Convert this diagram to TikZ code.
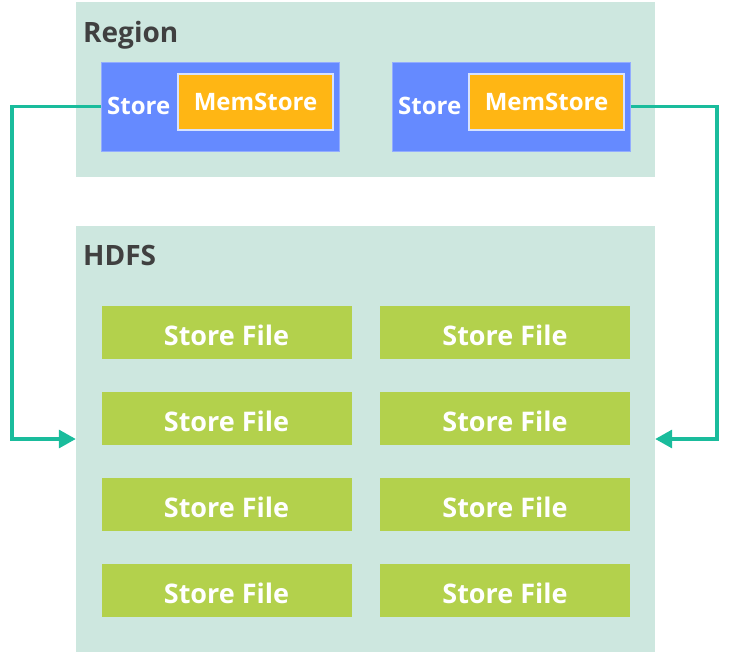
\documentclass[tikz,border=0pt]{standalone}
\usepackage{fontspec}
\setmainfont{Open Sans}
\usetikzlibrary{arrows.meta}
\definecolor{mint}{HTML}{CDE7DF}
\definecolor{storeblue}{HTML}{658AFF}
\definecolor{memorange}{HTML}{FFB614}
\definecolor{filegreen}{HTML}{B3D14C}
\definecolor{teal}{HTML}{1ABC9C}
\definecolor{labelgray}{HTML}{404040}
\definecolor{memedge}{HTML}{D6E2FF}
\tikzset{
  panel/.style={fill=mint, draw=none, inner sep=0pt},
  storebox/.style={fill=storeblue, draw=storeblue!70!white, line width=0.6pt, inner sep=0pt, minimum width=237.5pt, minimum height=89pt},
  membox/.style={fill=memorange, draw=memedge, line width=1.2pt, inner sep=0pt, minimum width=155pt, minimum height=56pt, text=white, font=\fontsize{24}{26}\selectfont\bfseries},
  filebox/.style={fill=filegreen, inner sep=0pt, minimum width=250pt, minimum height=53pt, text=white, text height=25pt, text depth=0pt, font=\fontsize{27}{29}\selectfont\bfseries},
  title/.style={text=labelgray, font=\fontsize{28}{30}\selectfont\bfseries, inner sep=0pt, anchor=base west},
  storelabel/.style={text=white, font=\fontsize{24}{26}\selectfont\bfseries, inner sep=0pt, anchor=base west},
  conn/.style={draw=teal, line width=3.3pt, -{Triangle[length=17pt,width=18pt]}}
}
\begin{document}
\begin{tikzpicture}[x=1pt,y=-1pt]
\useasboundingbox (0,0) rectangle (731,654);
% panels
\node[panel, minimum width=579pt, minimum height=175pt] (region) at (365.5,89.5) {};
\node[panel, minimum width=579pt, minimum height=426pt] (hdfs) at (365.5,439) {};
\node[title] (regiontitle) at (83,42) {Region};
\node[title] (hdfstitle) at (83,265) {HDFS};
% stores
\node[storebox] (storeL) at (220.25,106.5) {};
\node[storebox] (storeR) at (511.5,106.5) {};
\node[membox] (memL) at (255.5,102) {MemStore};
\node[membox] (memR) at (546.5,102) {MemStore};
\node[storelabel] (storeLtxt) at (107,114) {Store};
\node[storelabel] (storeRtxt) at (398,114) {Store};
% store files
\foreach \r/\y in {1/332.5,2/418.5,3/504.5,4/590.5}{
  \node[filebox] (fileL\r) at (226.5,\y) {Store File};
  \node[filebox] (fileR\r) at (505,\y) {Store File};
}
% connectors
\coordinate (bendL) at (12,300);
\coordinate (bendR) at (717,300);
\draw[conn] (storeL.west) -| (bendL) |- (hdfs.west);
\draw[conn] (storeR.east) -| (bendR) |- (hdfs.east);
\end{tikzpicture}
\end{document}
